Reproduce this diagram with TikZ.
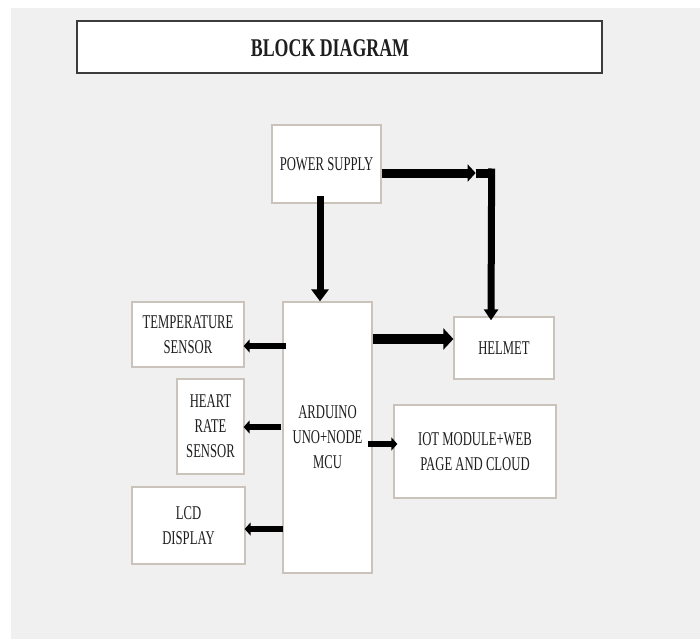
\documentclass[tikz,border=0pt]{standalone}
\usepackage{fontspec}
\setmainfont{Liberation Serif}
\newfontfamily\condfont[FakeStretch=0.65]{Liberation Serif}
\newfontfamily\titlefont[FakeStretch=0.70]{Liberation Serif}
\usetikzlibrary{arrows.meta,calc}
\definecolor{bg}{HTML}{F0F0F0}
\definecolor{boxline}{HTML}{C9C3BC}
\definecolor{titleline}{HTML}{3C3C3C}
\definecolor{txt}{HTML}{1E1E1E}
\begin{document}
\begin{tikzpicture}[x=1pt,y=-1pt,
  box/.style={draw=boxline, line width=1.3pt, fill=white, inner sep=0pt, align=center,
    font=\condfont\fontsize{19.5}{25}\selectfont, text=txt},
  thin/.style={line width=6pt, -{Triangle[length=6pt,width=13pt]}},
  thick/.style={line width=7pt, -{Triangle[length=12pt,width=17pt]}},
  fat/.style={line width=10pt, -{Triangle[length=10pt,width=21pt]}}]
\useasboundingbox (0,0) rectangle (700,639);
\fill[white] (0,0) rectangle (700,639);
\fill[bg] (11,8) rectangle (700,639);
% title
\node[draw=titleline, line width=2.5pt, fill=white, minimum width=525pt, minimum height=52pt, inner sep=0pt] (title) at (339.5,47) {};
\node[font=\titlefont\bfseries\fontsize{25.5}{30}\selectfont, text=txt, inner sep=0pt] (titletext) at (330,48.5) {BLOCK DIAGRAM};
% boxes
\node[box, minimum width=109pt, minimum height=78pt] (ps) at (326.5,164) {POWER SUPPLY};
\node[box, minimum width=89pt, minimum height=271pt] (ard) at (327.5,437.5) {ARDUINO\\UNO+NODE\\MCU};
\node[box, minimum width=112pt, minimum height=65pt] (temp) at (188,334.5) {TEMPERATURE\\SENSOR};
\node[box, minimum width=67pt, minimum height=95pt] (heart) at (210.5,426.5) {HEART\\RATE\\SENSOR};
\node[box, minimum width=113pt, minimum height=77pt] (lcd) at (188.5,525.5) {LCD\\DISPLAY};
\node[box, minimum width=100pt, minimum height=62pt] (helmet) at (504,348) {HELMET};
\node[box, minimum width=162pt, minimum height=93pt] (iot) at (475,451.5) {IOT MODULE+WEB\\PAGE AND CLOUD};
% connectors
\draw[thick] ($(ps.south)+(-6.5,-8)$) -- ($(ard.north)+(-7.5,0)$);
\coordinate (corner) at ($(ps.east)+(94,9)$);
\draw[line width=9pt, -{Triangle[length=8pt,width=17pt]}] ($(ps.east)+(0,9)$) -- (corner);
\draw[line width=9pt] (corner) -- ($(corner)+(19,0)$);
\draw[line width=7pt, -{Triangle[length=11pt,width=14pt]}] ($(corner)+(16,-4.5)$) -- ($(helmet.north)+(-13,4)$);
\draw[fat] ($(ard.east |- helmet.west)+(0,-9)$) -- ($(helmet.west)+(0,-9)$);
\draw[thin] ($(ard.west |- temp.east)+(4,11.5)$) -- ($(temp.east)+(-1,11.5)$);
\draw[thin] ($(ard.west |- heart.east)+(-1,0.5)$) -- ($(heart.east)+(-1,0.5)$);
\draw[thin] ($(ard.west |- lcd.east)+(1,3.5)$) -- ($(lcd.east)+(-1,3.5)$);
\draw[thin] ($(ard.east |- iot.west)+(-5,-7.5)$) -- ($(iot.west)+(4,-7.5)$);
\end{tikzpicture}
\end{document}
